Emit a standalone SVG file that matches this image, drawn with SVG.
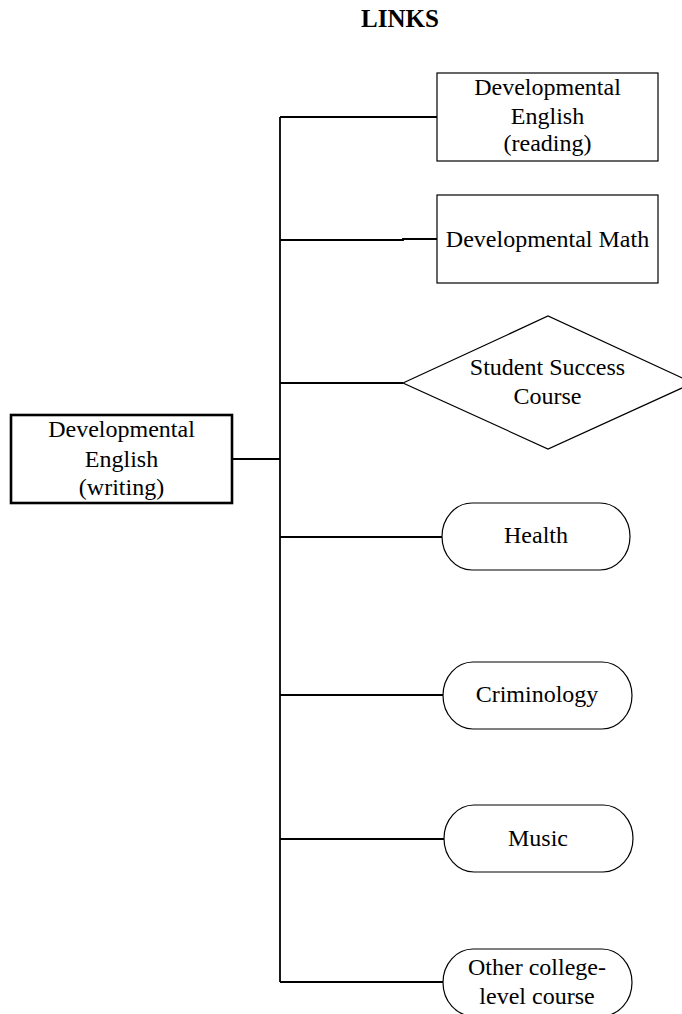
<svg xmlns="http://www.w3.org/2000/svg" width="682" height="1014" viewBox="0 0 682 1014">
<style>
text{font-family:"Liberation Serif","Times New Roman",serif;font-size:24px;fill:#000;text-anchor:middle}
.title{font-weight:bold;font-size:25px}
.node{fill:#fff;stroke:#000;stroke-width:1.2}
.main{fill:#fff;stroke:#000;stroke-width:2.6}
.conn{fill:none;stroke:#000;stroke-width:1.8}
</style>
<rect width="682" height="1014" fill="#fff"/>
<text class="title" x="400" y="27">LINKS</text>
<g id="connectors">
<line class="conn" x1="280" y1="117" x2="280" y2="982"/>
<line class="conn" x1="232" y1="459" x2="280" y2="459"/>
<line class="conn" x1="280" y1="117" x2="437" y2="117"/>
<polyline class="conn" points="280,240 403,240 403,239 437,239"/>
<line class="conn" x1="280" y1="383" x2="403" y2="383"/>
<line class="conn" x1="280" y1="537" x2="442" y2="537"/>
<line class="conn" x1="280" y1="695" x2="443" y2="695"/>
<line class="conn" x1="280" y1="839" x2="444" y2="839"/>
<line class="conn" x1="280" y1="982" x2="443" y2="982"/>
</g>
<g id="dev-english-writing">
<rect class="main" x="11" y="415" width="221" height="88"/>
<text x="121.5" y="437">Developmental</text>
<text x="121.5" y="467">English</text>
<text x="121.5" y="495">(writing)</text>
</g>
<g id="dev-english-reading">
<rect class="node" x="437" y="73" width="221" height="88"/>
<text x="547.5" y="95">Developmental</text>
<text x="547.5" y="124">English</text>
<text x="547.5" y="151">(reading)</text>
</g>
<g id="dev-math">
<rect class="node" x="437" y="195" width="221" height="88"/>
<text x="547.5" y="247">Developmental Math</text>
</g>
<g id="student-success">
<polygon class="node" points="403,383 548,316 693,383 548,449"/>
<text x="547.5" y="375">Student Success</text>
<text x="547.5" y="404">Course</text>
</g>
<g id="health">
<rect class="node" x="442" y="503" width="188" height="67" rx="30" ry="33.5"/>
<text x="536" y="543">Health</text>
</g>
<g id="criminology">
<rect class="node" x="443" y="662" width="189" height="67" rx="30" ry="33.5"/>
<text x="537" y="702">Criminology</text>
</g>
<g id="music">
<rect class="node" x="444" y="805" width="189" height="67" rx="30" ry="33.5"/>
<text x="538" y="846">Music</text>
</g>
<g id="other-course">
<rect class="node" x="443" y="949" width="189" height="67" rx="30" ry="33.5"/>
<text x="537" y="975">Other college-</text>
<text x="537" y="1004">level course</text>
</g>
</svg>
